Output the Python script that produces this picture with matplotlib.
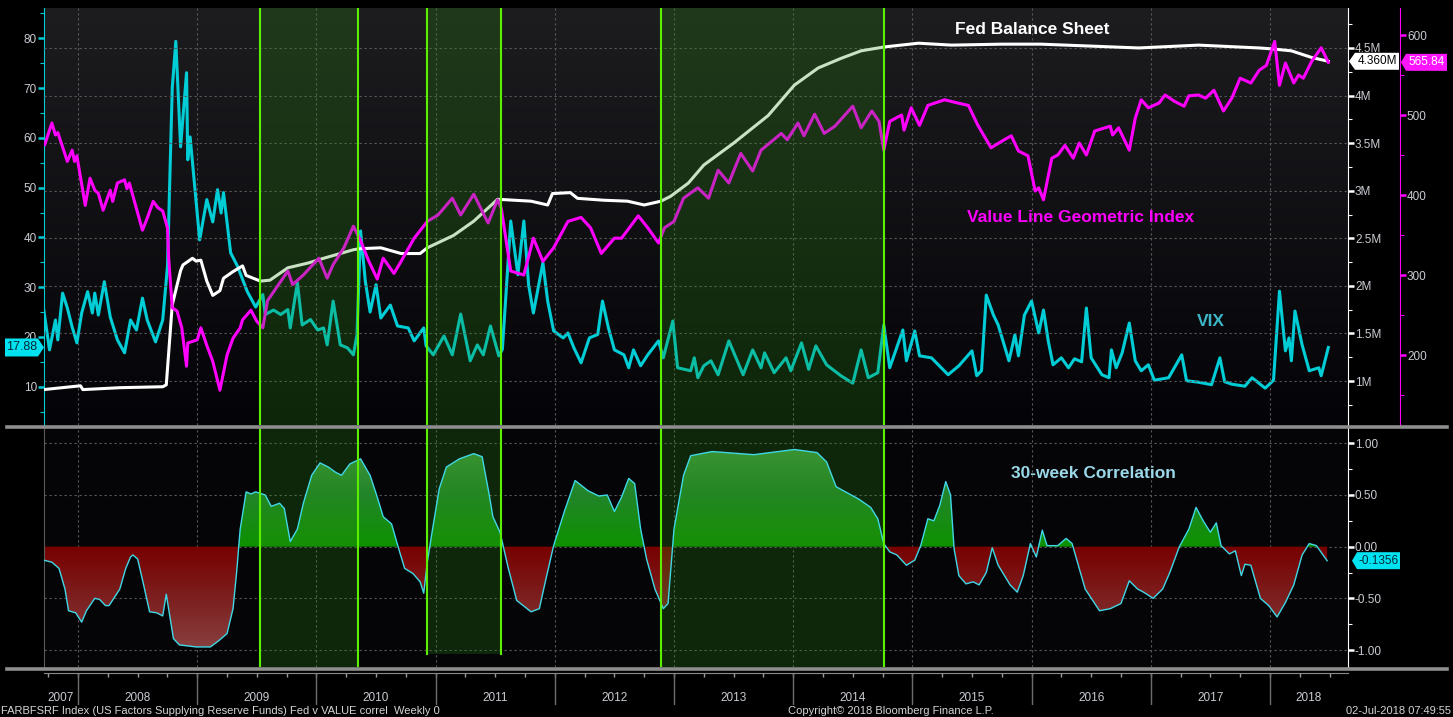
import numpy as np
import matplotlib
matplotlib.use('Agg')
import matplotlib.pyplot as plt
import matplotlib.ticker as mticker
from matplotlib.lines import Line2D
from matplotlib.patches import Polygon
from matplotlib.path import Path
from matplotlib.transforms import IdentityTransform, blended_transform_factory
from matplotlib.colors import LinearSegmentedColormap

# ---------------- data (decimal years) ----------------
vix_t = [2007.71, 2007.76, 2007.81, 2007.83, 2007.87, 2007.91, 2007.95, 2007.99, 2008.03, 2008.08,
         2008.12, 2008.14, 2008.17, 2008.22, 2008.27, 2008.33, 2008.39, 2008.44, 2008.49, 2008.54,
         2008.58, 2008.65, 2008.71, 2008.75, 2008.79, 2008.82, 2008.86, 2008.91, 2008.92, 2008.94,
         2009.02, 2009.08, 2009.13, 2009.17, 2009.20, 2009.22, 2009.28, 2009.34, 2009.36, 2009.42,
         2009.49, 2009.55, 2009.57, 2009.64, 2009.70, 2009.76, 2009.78, 2009.84, 2009.88, 2009.95,
         2010.01, 2010.06, 2010.09, 2010.14, 2010.20, 2010.26, 2010.31, 2010.34, 2010.37, 2010.41,
         2010.45, 2010.50, 2010.54, 2010.62, 2010.68, 2010.77, 2010.82, 2010.90, 2010.92, 2010.98,
         2011.07, 2011.14, 2011.21, 2011.29, 2011.35, 2011.40, 2011.46, 2011.53, 2011.56, 2011.63,
         2011.69, 2011.74, 2011.78, 2011.82, 2011.90, 2011.94, 2011.99, 2012.07, 2012.11, 2012.16,
         2012.22, 2012.29, 2012.36, 2012.40, 2012.45, 2012.50, 2012.58, 2012.62, 2012.66, 2012.72,
         2012.78, 2012.87, 2012.91, 2012.99, 2013.03, 2013.14, 2013.17, 2013.20, 2013.25, 2013.31,
         2013.37, 2013.46, 2013.58, 2013.66, 2013.73, 2013.76, 2013.84, 2013.94, 2013.98, 2014.07,
         2014.13, 2014.19, 2014.28, 2014.40, 2014.50, 2014.57, 2014.63, 2014.71, 2014.76, 2014.81,
         2014.92, 2014.95, 2015.02, 2015.06, 2015.16, 2015.30, 2015.39, 2015.50, 2015.54, 2015.58,
         2015.62, 2015.68, 2015.72, 2015.81, 2015.86, 2015.89, 2015.94, 2016.00, 2016.06, 2016.10,
         2016.14, 2016.18, 2016.25, 2016.31, 2016.36, 2016.42, 2016.46, 2016.50, 2016.59, 2016.65,
         2016.67, 2016.71, 2016.76, 2016.82, 2016.87, 2016.92, 2016.98, 2017.03, 2017.15, 2017.26,
         2017.30, 2017.40, 2017.51, 2017.58, 2017.62, 2017.68, 2017.79, 2017.85, 2017.96, 2018.03,
         2018.08, 2018.13, 2018.16, 2018.18, 2018.21, 2018.24, 2018.27, 2018.33, 2018.41, 2018.43,
         2018.49]
vix_v = [25.8, 17.4, 23.4, 19.4, 28.8, 25.8, 22.0, 18.8, 24.8, 29.1,
         24.8, 28.8, 24.4, 31.1, 24.0, 19.4, 16.8, 23.4, 21.4, 27.8,
         23.4, 19.0, 23.4, 34.1, 70.0, 79.4, 58.2, 73.1, 55.6, 60.2,
         39.5, 47.6, 43.1, 49.6, 44.9, 49.0, 36.9, 34.1, 32.8, 29.1,
         26.0, 28.5, 24.5, 25.4, 24.5, 25.5, 21.8, 30.9, 22.4, 23.5,
         21.4, 21.8, 18.4, 27.2, 18.4, 17.8, 16.4, 20.4, 41.3, 31.2,
         25.0, 30.5, 23.8, 26.4, 22.2, 21.8, 19.2, 21.8, 18.2, 16.4,
         20.2, 16.4, 24.6, 15.2, 18.4, 16.4, 22.2, 16.2, 17.5, 43.3,
         32.5, 43.3, 30.5, 24.8, 34.9, 27.2, 21.2, 19.8, 20.8, 17.8,
         14.8, 19.8, 20.5, 27.2, 21.8, 17.4, 16.4, 13.8, 17.4, 14.2,
         16.4, 19.2, 15.8, 23.2, 13.8, 13.2, 15.8, 11.8, 14.2, 15.2,
         12.4, 19.2, 12.4, 17.4, 13.8, 16.8, 12.8, 15.8, 13.2, 18.8,
         13.5, 18.2, 14.4, 12.2, 10.7, 17.4, 11.8, 12.8, 22.4, 13.8,
         21.4, 15.2, 21.2, 16.2, 15.8, 12.4, 14.2, 17.2, 12.2, 13.2,
         28.4, 24.4, 22.4, 15.2, 20.4, 16.2, 24.4, 27.2, 20.8, 25.4,
         19.2, 14.4, 15.8, 13.8, 15.6, 15.0, 25.8, 15.8, 12.4, 11.8,
         17.4, 13.8, 16.8, 22.8, 15.2, 13.2, 14.4, 11.3, 11.8, 16.4,
         11.2, 10.9, 10.4, 15.8, 11.0, 10.5, 10.1, 11.8, 9.7, 11.3,
         29.2, 17.2, 19.8, 15.2, 25.2, 21.8, 18.4, 13.2, 13.8, 12.2,
         17.88]

fed_t = [2007.71, 2008.02, 2008.04, 2008.35, 2008.71, 2008.74, 2008.79, 2008.86, 2008.88, 2008.96,
         2008.99, 2009.03, 2009.08, 2009.13, 2009.19, 2009.22, 2009.30, 2009.38, 2009.41, 2009.53,
         2009.61, 2009.76, 2009.93, 2010.06, 2010.20, 2010.31, 2010.36, 2010.54, 2010.71, 2010.87,
         2010.93, 2011.15, 2011.32, 2011.52, 2011.80, 2011.94, 2011.98, 2012.13, 2012.19, 2012.41,
         2012.61, 2012.75, 2012.89, 2012.97, 2013.12, 2013.25, 2013.50, 2013.79, 2014.01, 2014.21,
         2014.40, 2014.57, 2014.76, 2015.05, 2015.33, 2015.75, 2016.08, 2016.90, 2017.40, 2017.91,
         2018.02, 2018.18, 2018.35, 2018.49]
fed_v = [0.91, 0.95, 0.91, 0.93, 0.94, 0.96, 1.80, 2.16, 2.22, 2.29,
         2.26, 2.27, 2.05, 1.90, 1.95, 2.08, 2.15, 2.21, 2.11, 2.05,
         2.06, 2.19, 2.24, 2.29, 2.34, 2.38, 2.39, 2.40, 2.34, 2.34,
         2.40, 2.53, 2.68, 2.91, 2.89, 2.85, 2.97, 2.98, 2.92, 2.90,
         2.89, 2.85, 2.89, 2.94, 3.08, 3.27, 3.50, 3.79, 4.11, 4.29,
         4.39, 4.47, 4.51, 4.55, 4.53, 4.54, 4.54, 4.50, 4.53, 4.50,
         4.49, 4.47, 4.40, 4.36]   # millions

vl_t = [2007.72, 2007.78, 2007.81, 2007.83, 2007.91, 2007.95, 2007.97, 2007.99, 2008.06, 2008.10,
        2008.14, 2008.17, 2008.21, 2008.27, 2008.29, 2008.33, 2008.39, 2008.41, 2008.43, 2008.54,
        2008.58, 2008.63, 2008.67, 2008.71, 2008.75, 2008.76, 2008.79, 2008.83, 2008.87, 2008.91,
        2008.92, 2009.00, 2009.03, 2009.08, 2009.13, 2009.19, 2009.25, 2009.30, 2009.36, 2009.38,
        2009.45, 2009.50, 2009.55, 2009.59, 2009.70, 2009.76, 2009.80, 2009.89, 2010.02, 2010.09,
        2010.14, 2010.23, 2010.31, 2010.37, 2010.44, 2010.51, 2010.56, 2010.65, 2010.71, 2010.82,
        2010.93, 2011.02, 2011.14, 2011.21, 2011.32, 2011.44, 2011.52, 2011.55, 2011.63, 2011.74,
        2011.82, 2011.90, 2011.99, 2012.11, 2012.22, 2012.30, 2012.39, 2012.50, 2012.56, 2012.70,
        2012.78, 2012.87, 2012.92, 2013.00, 2013.08, 2013.20, 2013.29, 2013.37, 2013.46, 2013.56,
        2013.66, 2013.73, 2013.90, 2013.95, 2014.04, 2014.09, 2014.18, 2014.26, 2014.35, 2014.50,
        2014.57, 2014.66, 2014.72, 2014.76, 2014.81, 2014.91, 2014.93, 2014.99, 2015.06, 2015.13,
        2015.27, 2015.38, 2015.47, 2015.55, 2015.66, 2015.77, 2015.83, 2015.89, 2015.97, 2016.03,
        2016.06, 2016.10, 2016.17, 2016.22, 2016.28, 2016.35, 2016.40, 2016.46, 2016.53, 2016.66,
        2016.68, 2016.73, 2016.82, 2016.87, 2016.92, 2016.98, 2017.07, 2017.12, 2017.20, 2017.28,
        2017.32, 2017.40, 2017.46, 2017.53, 2017.61, 2017.68, 2017.75, 2017.84, 2017.91, 2017.97,
        2018.04, 2018.08, 2018.13, 2018.20, 2018.24, 2018.28, 2018.35, 2018.43, 2018.49]
vl_v = [463, 490, 475, 478, 442, 456, 442, 449, 387, 421,
        406, 402, 381, 406, 392, 415, 419, 408, 415, 356,
        371, 392, 384, 380, 359, 321, 259, 255, 234, 186,
        215, 219, 234, 212, 192, 156, 200, 221, 234, 244,
        256, 242, 234, 268, 292, 305, 288, 300, 321, 296,
        313, 334, 361, 343, 317, 295, 321, 302, 317, 346,
        367, 375, 396, 375, 401, 365, 394, 384, 305, 300,
        346, 317, 334, 367, 372, 359, 327, 346, 346, 374,
        359, 340, 359, 367, 396, 409, 396, 431, 415, 452,
        430, 456, 477, 469, 490, 474, 501, 477, 486, 511,
        484, 505, 492, 456, 492, 500, 481, 509, 487, 512,
        519, 515, 512, 487, 459, 469, 474, 455, 449, 405,
        409, 394, 446, 450, 462, 446, 465, 450, 480, 486,
        475, 484, 456, 496, 519, 509, 515, 525, 517, 511,
        524, 525, 521, 531, 505, 521, 546, 540, 556, 562,
        592, 537, 565, 540, 550, 546, 567, 584, 565.84]

corr_t = [2007.71, 2007.78, 2007.84, 2007.89, 2007.92, 2007.98, 2008.03, 2008.07, 2008.14, 2008.18,
          2008.23, 2008.26, 2008.35, 2008.40, 2008.44, 2008.46, 2008.50, 2008.55, 2008.60, 2008.66,
          2008.71, 2008.74, 2008.80, 2008.85, 2008.99, 2009.11, 2009.18, 2009.25, 2009.30, 2009.33,
          2009.36, 2009.41, 2009.45, 2009.49, 2009.57, 2009.62, 2009.69, 2009.73, 2009.78, 2009.84,
          2009.89, 2009.96, 2010.03, 2010.10, 2010.16, 2010.21, 2010.28, 2010.37, 2010.45, 2010.51,
          2010.56, 2010.63, 2010.69, 2010.74, 2010.81, 2010.87, 2010.90, 2010.93, 2010.97, 2011.03,
          2011.09, 2011.20, 2011.32, 2011.39, 2011.45, 2011.48, 2011.54, 2011.61, 2011.68, 2011.80,
          2011.87, 2011.92, 2011.99, 2012.08, 2012.17, 2012.28, 2012.37, 2012.44, 2012.50, 2012.56,
          2012.62, 2012.67, 2012.72, 2012.77, 2012.84, 2012.91, 2012.95, 2013.00, 2013.08, 2013.14,
          2013.32, 2013.67, 2014.01, 2014.20, 2014.28, 2014.36, 2014.47, 2014.55, 2014.65, 2014.71,
          2014.76, 2014.81, 2014.87, 2014.95, 2015.02, 2015.07, 2015.13, 2015.18, 2015.23, 2015.28,
          2015.32, 2015.35, 2015.39, 2015.45, 2015.51, 2015.56, 2015.62, 2015.67, 2015.72, 2015.82,
          2015.88, 2015.93, 2015.99, 2016.04, 2016.09, 2016.13, 2016.22, 2016.29, 2016.34, 2016.45,
          2016.57, 2016.66, 2016.75, 2016.82, 2016.89, 2016.94, 2017.02, 2017.10, 2017.16, 2017.24,
          2017.32, 2017.38, 2017.44, 2017.50, 2017.55, 2017.59, 2017.66, 2017.71, 2017.76, 2017.79,
          2017.84, 2017.92, 2017.99, 2018.06, 2018.13, 2018.20, 2018.27, 2018.33, 2018.39, 2018.48]
corr_v = [-0.13, -0.15, -0.21, -0.41, -0.62, -0.64, -0.73, -0.62, -0.50, -0.51,
          -0.57, -0.57, -0.41, -0.21, -0.10, -0.08, -0.12, -0.37, -0.63, -0.64,
          -0.67, -0.46, -0.89, -0.95, -0.97, -0.97, -0.91, -0.84, -0.60, -0.25,
          0.17, 0.53, 0.51, 0.53, 0.50, 0.39, 0.42, 0.37, 0.05, 0.17,
          0.42, 0.69, 0.81, 0.77, 0.72, 0.69, 0.80, 0.85, 0.69, 0.48,
          0.29, 0.22, -0.02, -0.21, -0.26, -0.34, -0.45, -0.15, 0.14, 0.56,
          0.77, 0.85, 0.90, 0.87, 0.50, 0.29, 0.14, -0.21, -0.52, -0.63,
          -0.60, -0.34, 0.01, 0.34, 0.64, 0.54, 0.49, 0.50, 0.34, 0.48,
          0.66, 0.61, 0.17, -0.12, -0.41, -0.60, -0.55, 0.17, 0.69, 0.88,
          0.92, 0.89, 0.94, 0.91, 0.82, 0.58, 0.51, 0.46, 0.38, 0.27,
          0.03, -0.05, -0.08, -0.18, -0.13, 0.01, 0.27, 0.25, 0.40, 0.63,
          0.50, -0.02, -0.28, -0.36, -0.34, -0.37, -0.25, -0.01, -0.18, -0.37,
          -0.44, -0.28, 0.03, -0.10, 0.16, 0.01, 0.01, 0.08, 0.03, -0.41,
          -0.62, -0.60, -0.55, -0.33, -0.41, -0.44, -0.50, -0.41, -0.25, 0.00,
          0.17, 0.38, 0.25, 0.14, 0.23, 0.01, -0.07, -0.04, -0.28, -0.17,
          -0.18, -0.50, -0.57, -0.68, -0.54, -0.37, -0.08, 0.03, 0.01, -0.1356]

band_start = [2009.53, 2010.93, 2012.89]
band_end = [2010.35, 2011.55, 2014.76]
band_floor = [None, -1.035, None]   # lower end of a band in the correlation panel

year_labels = [2007, 2008, 2009, 2010, 2011, 2012, 2013, 2014, 2015, 2016, 2017, 2018]

label_fed = "Fed Balance Sheet"
label_vl = "Value Line Geometric Index"
label_vix = "VIX"
label_corr = "30-week Correlation"
footer_left = "FARBFSRF Index (US Factors Supplying Reserve Funds) Fed v VALUE correl  Weekly 0"
footer_mid = "Copyright\u00a9 2018 Bloomberg Finance L.P."
footer_right = "02-Jul-2018 07:49:55"

# ---------------- styling ----------------
W, H = 1453, 717
NARROW = ['Liberation Sans Narrow', 'Liberation Sans', 'DejaVu Sans']
BOLD = ['Liberation Sans', 'DejaVu Sans']
plt.rcParams['font.family'] = NARROW
TXT = '#c8ccd2'
CYAN = '#00cdd6'
MAG = '#ff00ff'
BAND_FILL = (42/255, 142/255, 16/255)
BAND_EDGE = '#5cf000'
GRID = dict(color='#5a5a5e', linestyle=(0, (2, 2.5)), linewidth=0.8)
XLIM = (2007.714, 2018.655)
years = np.arange(2008, 2019)

fig = plt.figure(figsize=(W / 100, H / 100), dpi=100, facecolor='black')


def rect(x0, y0, x1, y1):
    return [x0 / W, 1 - y1 / H, (x1 - x0) / W, (y1 - y0) / H]


# ---------- top panel ----------
ax = fig.add_axes(rect(44, 8, 1348, 425))
ax.set_facecolor('black')
bg = LinearSegmentedColormap.from_list('bg', ['#040408', '#1d1d20'])
ax.imshow(np.linspace(0, 1, 256).reshape(-1, 1), extent=(0, 1, 0, 1), transform=ax.transAxes,
          origin='lower', cmap=bg, aspect='auto', zorder=0)
axF = ax.twinx()
axV = ax.twinx()

ax.plot(vix_t, vix_v, color=CYAN, lw=2.2, zorder=3, solid_joinstyle='round')
axF.plot(fed_t, fed_v, color='white', lw=2.2, zorder=3, solid_joinstyle='round')
axV.plot(vl_t, vl_v, color=MAG, lw=2.2, zorder=3, solid_joinstyle='round')

for b0, b1 in zip(band_start, band_end):
    axV.axvspan(b0, b1, color=BAND_FILL, alpha=0.25, lw=0, zorder=10)
    for b in (b0, b1):
        axV.axvline(b, color=BAND_EDGE, lw=1.5, zorder=11)

ax.set_xlim(*XLIM)
ax.set_ylim(2.3, 86.1)
axF.set_ylim(0.538, 4.92)
axV.set_ylim(112.5, 633.75)

ax.set_xticks(years)
ax.tick_params(axis='x', which='both', length=0, labelbottom=False)
ax.xaxis.grid(True, **GRID)
axF.yaxis.grid(True, **GRID)
ax.set_axisbelow(False)

ax.yaxis.set_major_locator(mticker.MultipleLocator(10))
ax.yaxis.set_minor_locator(mticker.MultipleLocator(5))
axF.yaxis.set_major_locator(mticker.MultipleLocator(0.5))
axF.yaxis.set_minor_locator(mticker.MultipleLocator(0.25))
axF.yaxis.set_major_formatter(mticker.FuncFormatter(lambda v, p: f'{v:g}M'))
axV.yaxis.set_major_locator(mticker.MultipleLocator(100))
axV.yaxis.set_minor_locator(mticker.MultipleLocator(50))

for a in (ax, axF, axV):
    for s in a.spines.values():
        s.set_visible(False)
ax.spines['left'].set_visible(True)
ax.spines['left'].set_color(CYAN)
axF.spines['right'].set_visible(True)
axF.spines['right'].set_color('white')
axV.spines['right'].set_visible(True)
axV.spines['right'].set_color(MAG)
axV.spines['right'].set_position(('axes', (1400 - 44) / 1304))

for a, c in ((ax, CYAN), (axF, 'white'), (axV, MAG)):
    a.tick_params(axis='y', which='major', direction='out', length=4, width=1.8, color=c,
                  labelcolor=TXT, labelsize=8.5, pad=1)
    a.tick_params(axis='y', which='minor', direction='out', length=3, width=0.8, color=c)

ax.text((1032 - 44) / 1304, (425 - 29) / 417, label_fed, transform=ax.transAxes, ha='center',
        va='center', color='white', fontsize=12.5, fontweight='bold', family=BOLD, zorder=20)
ax.text((1080.5 - 44) / 1304, (425 - 217) / 417, label_vl, transform=ax.transAxes, ha='center',
        va='center', color=MAG, fontsize=12.5, fontweight='bold', family=BOLD, zorder=20)
ax.text((1210.6 - 44) / 1304, (425 - 321) / 417, label_vix, transform=ax.transAxes, ha='center',
        va='center', color='#3cb6c6', fontsize=12.5, fontweight='bold', family=BOLD, zorder=20)

# ---------- correlation panel ----------
axc = fig.add_axes(rect(44, 428, 1348, 667))
axc.set_facecolor('#050508')
axc.set_xlim(*XLIM)
CLIM = (-1.164, 1.148)
axc.set_ylim(*CLIM)

ct = np.array(corr_t)
cv = np.array(corr_v)
green = LinearSegmentedColormap.from_list('gr', [(0, '#0e9200'), (0.45, '#22842a'), (1, '#509e48')])
red = LinearSegmentedColormap.from_list('rd', [(0, '#8e4c4c'), (0.5, '#7e2424'), (1, '#780000')])


def gradient_fill(axis, where, cmap, lo, hi):
    poly = axis.fill_between(ct, 0, cv, where=where, interpolate=True, facecolor='none', lw=0)
    paths = poly.get_paths()
    poly.remove()
    if not paths:
        return
    comp = Path.make_compound_path(*paths)
    im = axis.imshow(np.linspace(0, 1, 256).reshape(-1, 1), extent=(XLIM[0], XLIM[1], lo, hi),
                     origin='lower', cmap=cmap, aspect='auto', zorder=2, interpolation='bilinear')
    im.set_clip_path(comp, transform=axis.transData)


gradient_fill(axc, cv >= 0, green, 0, CLIM[1])
gradient_fill(axc, cv <= 0, red, CLIM[0], 0)
axc.plot(ct, cv, color='#40d8e6', lw=1.0, zorder=7)

for b0, b1, fl in zip(band_start, band_end, band_floor):
    ymin = 0 if fl is None else (fl - CLIM[0]) / (CLIM[1] - CLIM[0])
    axc.axvspan(b0, b1, ymin=ymin, ymax=1, color=BAND_FILL, alpha=0.25, lw=0, zorder=5)
    for b in (b0, b1):
        axc.axvline(b, ymin=ymin, ymax=1, color=BAND_EDGE, lw=1.5, zorder=8)

axc.set_xlim(*XLIM)
axc.set_ylim(*CLIM)
axc.set_xticks(years)
axc.tick_params(axis='x', which='both', length=0, labelbottom=False)
axc.yaxis.tick_right()
axc.yaxis.set_major_locator(mticker.MultipleLocator(0.5))
axc.yaxis.set_minor_locator(mticker.MultipleLocator(0.25))
axc.yaxis.set_major_formatter(mticker.FuncFormatter(
    lambda v, p: f'{(0.0 if abs(v) < 1e-9 else v):.2f}'))
axc.tick_params(axis='y', which='major', direction='out', length=4, width=1.8, color='white',
                labelcolor=TXT, labelsize=8.5, pad=1)
axc.tick_params(axis='y', which='minor', direction='out', length=3, width=0.8, color='white')
axc.grid(True, **GRID)
for s in axc.spines.values():
    s.set_visible(False)
axc.spines['right'].set_visible(True)
axc.spines['right'].set_color('white')
axc.spines['left'].set_visible(True)
axc.spines['left'].set_color('#5a5a5a')
axc.text((1093.5 - 44) / 1304, (667 - 474) / 239, label_corr, transform=axc.transAxes,
         ha='center', va='center', color='#9ad8e8', fontsize=12.5, fontweight='bold',
         family=BOLD, zorder=20)

# ---------- x strip ----------
axx = fig.add_axes(rect(44, 673, 1348, 705))
axx.set_facecolor('black')
axx.set_xlim(*XLIM)
axx.set_ylim(0, 1)
for s in axx.spines.values():
    s.set_visible(False)
axx.spines['top'].set_visible(True)
axx.spines['top'].set_color('#8a8a8a')
axx.xaxis.tick_top()
axx.set_xticks(np.arange(2007.75, XLIM[1], 0.25))
axx.tick_params(axis='x', direction='in', length=3, width=1, color='#9a9a9a',
                labeltop=False, labelbottom=False)
axx.set_yticks([])
bt = blended_transform_factory(axx.transData, axx.transAxes)
axx.vlines(years, 0, 1, transform=bt, color='#6e6e6e', lw=1)
for yr in year_labels:
    c = (max(yr, XLIM[0]) + min(yr + 1, XLIM[1])) / 2
    axx.text(c, 0.22, str(yr), transform=bt, ha='center', va='center', color=TXT, fontsize=8.5)

# ---------- separators ----------
for yy in (426.5, 668.5):
    fig.add_artist(Line2D([7 / W, 1447 / W], [1 - yy / H] * 2, transform=fig.transFigure,
                          color='#8e8e8e', lw=2.6))


# ---------- value tags ----------
def tag(xtip, x0, x1, yc, face, text, tcolor, point='left', half=8.5, size=8.5):
    if point == 'left':
        pts = [(xtip, yc), (x0, yc + half), (x1, yc + half), (x1, yc - half), (x0, yc - half)]
    else:
        pts = [(xtip, yc), (x1, yc + half), (x0, yc + half), (x0, yc - half), (x1, yc - half)]
    fig.add_artist(Polygon(pts, closed=True, transform=IdentityTransform(), facecolor=face,
                           edgecolor='none', zorder=30))
    fig.text((x0 + x1) / 2 / W, yc / H, text, ha='center', va='center', color=tcolor,
             fontsize=size, zorder=31)


def ypix(axis, value):
    return axis.transData.transform((XLIM[0], value))[1]


tag(44, 5, 38, ypix(ax, vix_v[-1]), '#00e2f0', f'{vix_v[-1]:.2f}', '#002838', point='right',
    half=9, size=9)
tag(1349, 1355, 1399, ypix(axF, fed_v[-1]), 'white', f'{fed_v[-1]:.3f}M', 'black')
tag(1401, 1406, 1447, ypix(axV, vl_v[-1]), '#ff14ff', f'{vl_v[-1]:.2f}', 'white')
tag(1352, 1357, 1400, ypix(axc, corr_v[-1]), '#00e2f0', f'{corr_v[-1]:.4f}', '#002838')

# ---------- footer ----------
fy = 1 - 711 / H
fig.text(1 / W, fy, footer_left, color='#d4d4d4', fontsize=8, va='center')
fig.text(788 / W, fy, footer_mid, color='#d4d4d4', fontsize=8, va='center')
fig.text(1451 / W, fy, footer_right, color='#d4d4d4', fontsize=8, va='center', ha='right')

fig.savefig('out.png', dpi=100, facecolor='black')
